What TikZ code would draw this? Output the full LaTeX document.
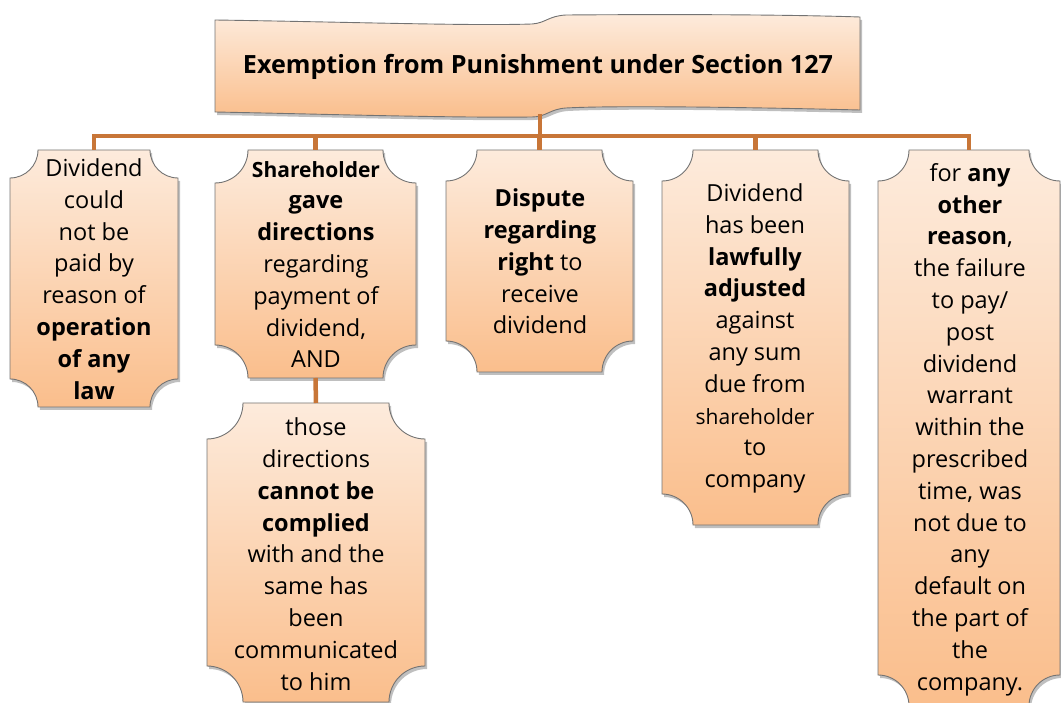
\documentclass[tikz,border=0pt]{standalone}
\usepackage{fontspec}
\usepackage{graphicx}
\setmainfont{Open Sans}
\usetikzlibrary{shadows}
\definecolor{boxtop}{RGB}{253,235,220}
\definecolor{boxbot}{RGB}{250,190,140}
\definecolor{edgegray}{RGB}{115,115,115}
\definecolor{linkcol}{RGB}{200,118,56}
\tikzset{
  plaquestyle/.style={draw=edgegray, line width=0.9pt, top color=boxtop, bottom color=boxbot,
    drop shadow={shadow xshift=2pt, shadow yshift=-3pt, opacity=0.25, fill=black}},
  boxframe/.style={draw=none, inner sep=0pt, outer sep=0pt},
  boxtext/.style={align=center, inner sep=0pt, font=\fontsize{23.5}{31.8}\selectfont},
  link/.style={draw=linkcol, line width=4.5pt, line join=miter},
}
\newcommand\plaque[5]{%
  \path[plaquestyle] ({#1+#5},#2) -- ({#3-#5},#2)
   .. controls ({#3-#5},{#2+0.552*#5}) and ({#3-0.552*#5},{#2+#5}) .. (#3,{#2+#5})
   -- (#3,{#4-#5})
   .. controls ({#3-0.552*#5},{#4-#5}) and ({#3-#5},{#4-0.552*#5}) .. ({#3-#5},#4)
   -- ({#1+#5},#4)
   .. controls ({#1+#5},{#4-0.552*#5}) and ({#1+0.552*#5},{#4-#5}) .. (#1,{#4-#5})
   -- (#1,{#2+#5})
   .. controls ({#1+0.552*#5},{#2+#5}) and ({#1+#5},{#2+0.552*#5}) .. ({#1+#5},#2) -- cycle;
}
\newcommand\plaquebox[6]{%
  \plaque{#2}{#3}{#4}{#5}{#6}
  \pgfmathsetmacro\plqw{#4-#2}\pgfmathsetmacro\plqh{#5-#3}
  \node[boxframe, minimum width=\plqw pt, minimum height=\plqh pt] (#1) at ({(#2+#4)/2},{(#3+#5)/2}) {};
}
\begin{document}
\begin{tikzpicture}[x=1pt,y=-1pt]
\useasboundingbox (0,0) rectangle (1061,703);
\coordinate (bus) at (0,136);
\coordinate (titlefoot) at (540,114);
% title banner
\path[plaquestyle] (215,20) .. controls (350,22) and (470,26) .. (532,24)
   .. controls (546,23) and (548,16) .. (566,15)
   .. controls (700,14) and (800,15) .. (860,17)
   -- (860,110)
   .. controls (780,108) and (620,105) .. (566,108)
   .. controls (550,109) and (546,117) .. (532,117)
   .. controls (450,118) and (320,114) .. (215,112) -- cycle;
\node[font=\bfseries] (title) at (538,67) {\resizebox{590pt}{!}{\fontsize{21}{25}\selectfont Exemption from Punishment under Section 127}};
% boxes
\plaquebox{b1}{10}{150}{178}{407}{28}
\plaquebox{b2}{215}{150}{416}{378}{33}
\plaquebox{b2b}{207}{403}{425}{702}{36}
\plaquebox{b3}{446}{150}{633}{372}{31}
\plaquebox{b4}{662}{150}{849}{525}{31}
\plaquebox{b5}{878}{150}{1060}{706}{31}
% connectors
\draw[link] (titlefoot) -- (titlefoot |- bus);
\draw[link] (b1.north) -- (b1.north |- bus) -- (b5.north |- bus) -- (b5.north);
\draw[link] (b2.north |- bus) -- (b2.north);
\draw[link] (b3.north |- bus) -- (b3.north);
\draw[link] (b4.north |- bus) -- (b4.north);
\draw[link] (b2.south) -- (b2b.north);
% texts
\node[boxtext] (t1) at (94,279) {Dividend\\could\\not be\\paid by\\reason of\\\textbf{operation}\\\textbf{of any}\\\textbf{law}};
\node[boxtext] (t2) at (316,264.5) {{\fontsize{21}{31.8}\selectfont\textbf{Shareholder}}\\\textbf{gave}\\\textbf{directions}\\regarding\\payment of\\dividend,\\AND};
\node[boxtext] (t2b) at (316,554) {those\\directions\\\textbf{cannot be}\\\textbf{complied}\\with and the\\same has\\been\\communicated\\to him};
\node[boxtext] (t3) at (540,261.5) {\textbf{Dispute}\\\textbf{regarding}\\\textbf{right} to\\receive\\dividend};
\node[boxtext] (t4) at (755,338.5) {Dividend\\has been\\\textbf{lawfully}\\\textbf{adjusted}\\against\\any sum\\due from\\{\fontsize{21}{31.8}\selectfont shareholder}\\to\\company};
\node[boxtext] (t5) at (970,429.5) {for \textbf{any}\\\textbf{other}\\\textbf{reason},\\the failure\\to pay/\\post\\dividend\\warrant\\within the\\prescribed\\time, was\\not due to\\any\\default on\\the part of\\the\\company.};
\end{tikzpicture}
\end{document}
